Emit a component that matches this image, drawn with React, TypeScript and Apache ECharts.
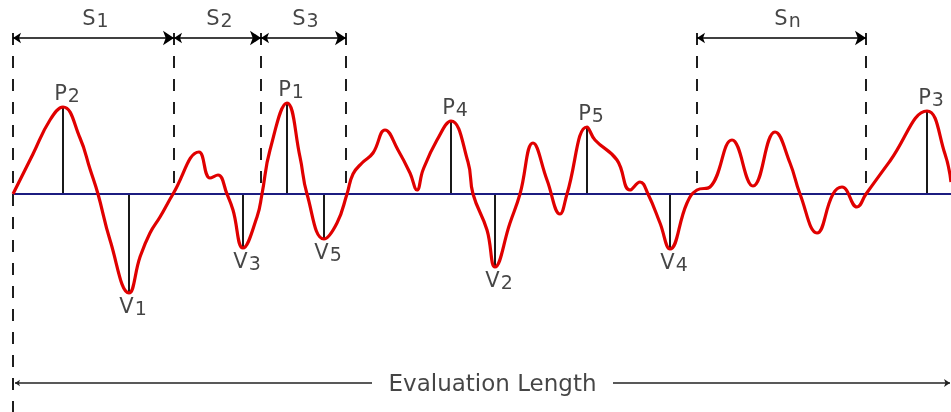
import React, { useEffect, useRef } from 'react';
import * as echarts from 'echarts';

// Surface profile (x along evaluation length, y = height relative to mean line)
const profileX = [13, 33, 50, 63, 80, 90, 98, 110, 129, 140, 150, 160, 173, 199, 210, 218, 227, 233, 243, 257, 262, 270, 287, 300, 307, 324, 337, 347, 353, 362, 373, 385, 398, 410, 417, 423, 437, 451, 468, 473, 487, 495, 510, 520, 533, 547, 560, 567, 587, 595, 617, 630, 640, 648, 660, 670, 687, 697, 710, 732, 753, 775, 790, 800, 817, 833, 842, 857, 866, 890, 927, 945, 951];
const profileY = [0, 40, 74, 87, 56, 25, 0, -46, -99, -63, -39, -23, 0, 42, 16, 19, 0, -16, -54, -23, 0, 44, 91, 37, 0, -45, -29, 0, 20, 31, 41, 64, 44, 21, 4, 24, 54, 73, 32, 0, -36, -73, -29, 0, 51, 14, -20, 0, 67, 54, 34, 4, 12, 0, -29, -55, -9, 4, 7, 54, 8, 62, 31, 0, -39, 0, 7, -13, 0, 33, 83, 40, 12];

// Labelled peaks (P) and valleys (V)
const extremaLetter = ['P', 'V', 'V', 'P', 'V', 'P', 'V', 'P', 'V', 'P'];
const extremaIndex = ['2', '1', '3', '1', '5', '4', '2', '5', '4', '3'];
const extremaX = [63, 129, 243, 287, 324, 451, 495, 587, 670, 927];
const extremaY = [87, -99, -54, 91, -45, 73, -73, 67, -55, 83];

// Mean-line crossings marking the spacings
const crossingX = [13, 174, 261, 346, 697, 866];
const spacingIndex = ['1', '2', '3', 'n'];
const spacingFrom = [13, 174, 261, 697];
const spacingTo = [174, 261, 346, 866];

// Evaluation length
const evalStart = 13;
const evalEnd = 950;
const evalLabel = 'Evaluation Length';
const evalGap = [372, 613];

// Frame levels (data units)
const X_MIN = 0, X_MAX = 951, Y_MIN = -218, Y_MAX = 194;
const DASH_TOP = 161;
const SPACING_Y = 156;
const SPACING_LABEL_Y = 176;
const EVAL_Y = -189;

const TEXT = '#161616';
const FONT = 'DejaVu Sans';

export default function App() {
  const ref = useRef<HTMLDivElement>(null);
  useEffect(() => {
    document.body.style.margin = '0';
    const chart = echarts.init(ref.current!, undefined, { renderer: 'svg' });

    const rich = {
      m: { fontSize: 21, fontFamily: FONT, color: TEXT, verticalAlign: 'bottom', padding: [0, 0, 1, 0] },
      s: { fontSize: 19, fontFamily: FONT, color: TEXT, verticalAlign: 'bottom', padding: [0, 0, 0, 1] },
    };

    const stems = extremaX.map((x, i) => ({ coords: [[x, 0], [x, extremaY[i]]] }));
    const dashes = crossingX.map((x, i) => ({ coords: [[x, DASH_TOP], [x, i === 0 ? Y_MIN : 0]] }));
    const spacingArrows = spacingFrom.map((x, i) => ({ coords: [[x, SPACING_Y], [spacingTo[i], SPACING_Y]] }));

    const extremaLabels = extremaX.map((x, i) => ({
      value: [x, extremaY[i]],
      label: {
        position: extremaY[i] > 0 ? 'top' : 'bottom',
        distance: extremaY[i] > 0 ? 3 : 2,
        offset: [4, 0],
        formatter: `{m|${extremaLetter[i]}}{s|${extremaIndex[i]}}`,
      },
    }));
    const spacingLabels = spacingFrom.map((x, i) => ({
      value: [(x + spacingTo[i]) / 2, SPACING_LABEL_Y],
      label: { formatter: `{m|S}{s|${spacingIndex[i]}}`, offset: [spacingIndex[i] === 'n' ? 6 : 2, 0] },
    }));

    chart.setOption({
      animation: false,
      grid: { left: 0, right: 0, top: 0, bottom: 0, containLabel: false },
      xAxis: { type: 'value', min: X_MIN, max: X_MAX, show: false },
      yAxis: { type: 'value', min: Y_MIN, max: Y_MAX, show: false },
      series: [
        {
          type: 'lines', coordinateSystem: 'cartesian2d', z: 1, silent: true,
          lineStyle: { color: '#1e1e1e', width: 2, type: [12, 11], opacity: 1 },
          data: dashes,
        },
        {
          type: 'lines', coordinateSystem: 'cartesian2d', z: 2, silent: true,
          lineStyle: { color: '#000', width: 1.8, opacity: 1 },
          data: stems,
        },
        {
          type: 'lines', coordinateSystem: 'cartesian2d', z: 3, silent: true,
          lineStyle: { color: '#1c1c80', width: 2, opacity: 1 },
          data: [{ coords: [[evalStart, 0], [X_MAX, 0]] }],
        },
        {
          type: 'line', z: 4, silent: true,
          data: profileX.map((x, i) => [x, profileY[i]]),
          smooth: 0.45, showSymbol: false, symbol: 'none',
          lineStyle: { color: '#e00000', width: 3.2 },
        },
        {
          type: 'lines', coordinateSystem: 'cartesian2d', z: 5, silent: true,
          symbol: ['arrow', 'arrow'], symbolSize: [8, 11],
          lineStyle: { color: '#000', width: 1.6, opacity: 1 },
          data: spacingArrows,
        },
        {
          type: 'lines', coordinateSystem: 'cartesian2d', z: 5, silent: true,
          symbol: ['arrow', 'none'], symbolSize: [5, 6],
          lineStyle: { color: '#222', width: 1.6, opacity: 1 },
          data: [{ coords: [[evalStart + 2, EVAL_Y], [evalGap[0], EVAL_Y]] }],
        },
        {
          type: 'lines', coordinateSystem: 'cartesian2d', z: 5, silent: true,
          symbol: ['none', 'arrow'], symbolSize: [5, 6],
          lineStyle: { color: '#222', width: 1.6, opacity: 1 },
          data: [{ coords: [[evalGap[1], EVAL_Y], [evalEnd, EVAL_Y]] }],
        },
        {
          type: 'scatter', z: 6, silent: true, symbolSize: 0,
          label: { show: true, rich, color: TEXT },
          data: [...extremaLabels, ...spacingLabels],
        },
        {
          type: 'scatter', z: 6, silent: true, symbolSize: 0,
          label: {
            show: true, position: 'inside', formatter: evalLabel,
            fontSize: 23, fontFamily: FONT, color: TEXT,
          },
          data: [[(evalGap[0] + evalGap[1]) / 2, EVAL_Y]],
        },
      ],
    });
    return () => chart.dispose();
  }, []);
  return <div ref={ref} style={{ position: 'fixed', left: 0, top: 0, width: 951, height: 412 }} />;
}
